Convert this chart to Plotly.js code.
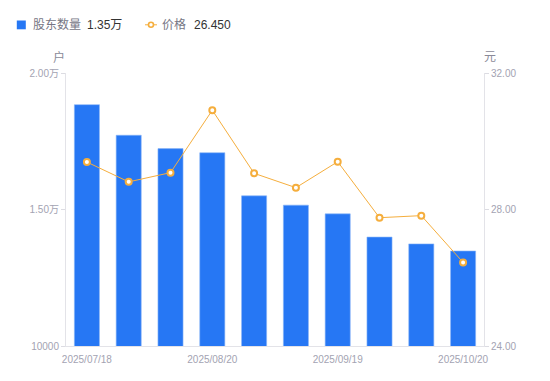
<!DOCTYPE html>
<html>
<head>
<meta charset="utf-8">
<script src="https://cdn.plot.ly/plotly-3.0.1.min.js"></script>
<style>html,body{margin:0;padding:0;background:#fff;}#chart{width:550px;height:381px;}</style>
</head>
<body>
<div id="chart"></div>
<script>
const dates = ["2025/07/18","2025/07/31","2025/08/10","2025/08/20","2025/08/31","2025/09/10","2025/09/19","2025/09/30","2025/10/10","2025/10/20"];
const holders = [18840, 17720, 17230, 17080, 15500, 15160, 14840, 13990, 13740, 13480];
const prices = [29.39, 28.81, 29.08, 30.91, 29.06, 28.64, 29.40, 27.76, 27.82, 26.45];
const xTickVals = ["2025/07/18","2025/08/20","2025/09/19","2025/10/20"];
const leftTickVals = [10000, 15000, 20000];
const leftTickText = ["10000", "1.50万", "2.00万"];
const rightTickVals = [24, 28, 32];
const rightTickText = ["24.00", "28.00", "32.00"];
const holderName = "股东数量";
const priceName = "价格";
const holderLegend = "1.35万";
const priceLegend = "26.450";

const font = "'Liberation Sans', Arial, 'Noto Sans CJK SC', sans-serif";
const tickColor = "#a3a3b2";
const barColor = "#2677F4";
const lineColor = "#F5AE3D";

// plot area in pixels
const L = 66, R = 66, T = 73, B = 35, W = 550, H = 381;
const pw = W - L - R, ph = H - T - B;
const px = v => (v - L) / pw;
const py = v => (H - B - v) / ph;

const traces = [
  {
    type: "bar", x: dates, y: holders, yaxis: "y", name: holderName,
    marker: {color: barColor, line: {color: "#8ab6f7", width: 0.6}},
    width: 0.6
  },
  {
    type: "scatter", mode: "lines+markers", x: dates, y: prices, yaxis: "y2", name: priceName,
    line: {color: lineColor, width: 1},
    marker: {symbol: "circle", size: 6, color: "#ffffff", line: {color: lineColor, width: 2}}
  }
];

const legendY = 24.8;
const ann = (text, x, y, color, xanchor) => ({
  text: text, xref: "paper", yref: "paper", x: px(x), y: py(y),
  xanchor: xanchor, yanchor: "middle", showarrow: false,
  font: {size: 12, color: color}
});
const annotations = [
  ann("户", 58.5, 57, "#8a8a98", "center"),
  ann("元", 490, 57, "#8a8a98", "center"),
  ann(holderName, 30.5, legendY, "#767684", "left"),
  ann(holderLegend, 84.5, legendY, "#333", "left"),
  ann(priceName, 160, legendY, "#767684", "left"),
  ann(priceLegend, 191.5, legendY, "#333", "left")
];
const shapes = [
  {type: "rect", xref: "paper", yref: "paper", x0: px(16.8), x1: px(25.8), y0: py(20.5), y1: py(29.3), fillcolor: barColor, line: {width: 0}},
  {type: "line", xref: "paper", yref: "paper", x0: px(145), x1: px(157), y0: py(legendY), y1: py(legendY), line: {color: lineColor, width: 1}},
  {type: "circle", xref: "paper", yref: "paper", x0: px(148.5), x1: px(153.5), y0: py(legendY - 2.5), y1: py(legendY + 2.5), fillcolor: "#fff", line: {color: lineColor, width: 1.6}}
];

const layout = {
  width: W, height: H,
  margin: {l: L, r: R, t: T, b: B},
  paper_bgcolor: "#fff", plot_bgcolor: "#fff",
  font: {family: font, size: 10, color: tickColor},
  showlegend: false,
  bargap: 0.4,
  xaxis: {
    type: "category", range: [-0.5, dates.length - 0.5], tickvals: xTickVals, ticktext: xTickVals,
    showgrid: false, zeroline: false, showline: true, linecolor: "#e3e3e8", linewidth: 1,
    ticks: "", ticklabelstandoff: 4, tickfont: {size: 10, color: tickColor}
  },
  yaxis: {
    range: [10000, 20000], tickvals: leftTickVals, ticktext: leftTickText,
    showgrid: false, zeroline: false, showline: true, linecolor: "#e3e3e8", linewidth: 1,
    ticks: "outside", ticklen: 4, tickcolor: "#dcdce2", tickfont: {size: 10, color: tickColor}
  },
  yaxis2: {
    range: [24, 32], tickvals: rightTickVals, ticktext: rightTickText,
    overlaying: "y", side: "right",
    showgrid: false, zeroline: false, showline: true, linecolor: "#e3e3e8", linewidth: 1,
    ticks: "outside", ticklen: 4, tickcolor: "#dcdce2", tickfont: {size: 10, color: tickColor}
  },
  annotations: annotations,
  shapes: shapes
};

Plotly.newPlot("chart", traces, layout, {displayModeBar: false, staticPlot: true});
</script>
</body>
</html>
